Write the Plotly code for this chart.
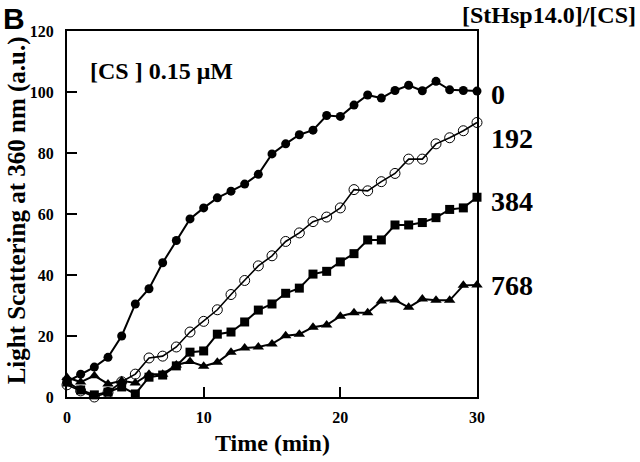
import plotly.graph_objects as go

time_min = list(range(0, 31))

ratio_labels = ["0", "192", "384", "768"]
label_y = [99.3, 84.6, 64.2, 36.4]

s_0 = [5, 7.5, 9.8, 13, 20, 30.5, 35.5, 44, 51.3, 58.4, 62, 65.3, 67.5, 69.8, 73, 79.7,
       83, 86, 87.5, 92.3, 92, 95.7, 99, 98, 100.5, 102.2, 100.4, 103.5, 100.7, 100.5, 100.3]
s_192 = [4, 2, 0, 1.5, 5, 7.5, 12.8, 13.4, 16.4, 21.3, 24.8, 28.6, 33.6, 38.2, 43, 46.3,
         51, 53.8, 57.5, 59, 62, 68, 67.6, 70.6, 73.3, 78, 78, 83, 85, 87.3, 90]
s_384 = [4.9, 2.3, 0.7, 1.6, 3.3, 1, 6.5, 7.2, 10.2, 14.7, 15.1, 20.6, 21.3, 24.6, 28.5, 30.5,
         34, 35.7, 40.3, 41.2, 44.3, 47, 51.5, 51.5, 56.4, 56.4, 57.2, 58.8, 61.5, 62, 65.5]
s_768 = [6.4, 4.9, 7, 4.3, 5.3, 4.6, 7.5, 7.5, 10.5, 11.6, 10.1, 11.4, 14.7, 16.1, 16.4, 17.4,
         20.1, 20.6, 22.9, 23.6, 26.5, 27.6, 27.6, 31.5, 31.8, 29.4, 32.1, 31.7, 31.7, 36.6, 36.7]

x_ticks = [0, 10, 20, 30]
y_ticks = [0, 20, 40, 60, 80, 100, 120]

SERIF = "Liberation Serif, Times New Roman, serif"

fig = go.Figure()
styles = [
    (s_0, dict(symbol="circle", size=9, color="black")),
    (s_192, dict(symbol="circle-open", size=10, color="black", line=dict(width=1))),
    (s_384, dict(symbol="square", size=9, color="black")),
    (s_768, dict(symbol="triangle-up", size=10, color="black")),
]
for ys, mk in styles:
    fig.add_trace(go.Scatter(
        x=time_min, y=ys, mode="lines+markers",
        line=dict(color="black", width=2 if mk["symbol"] != "circle-open" else 1.6),
        marker=mk, showlegend=False, cliponaxis=False,
    ))

for lab, yv in zip(ratio_labels, label_y):
    fig.add_annotation(x=1.03, xref="paper", y=yv, yref="y", text=lab, showarrow=False,
                       xanchor="left", yanchor="middle",
                       font=dict(family=SERIF, size=28, color="black", weight="bold"))

fig.add_annotation(x=1.3927, xref="paper", y=1.0847, yref="paper", text="[StHsp14.0]/[CS]",
                   showarrow=False, xanchor="right", yanchor="top",
                   font=dict(family=SERIF, size=24, color="black", weight="bold"))
fig.add_annotation(x=-0.161, xref="paper", y=1.0847, yref="paper", text="B",
                   showarrow=False, xanchor="left", yanchor="top",
                   font=dict(family="Liberation Sans, Arial, sans-serif", size=30, color="black", weight="bold"))
fig.add_annotation(x=1.5, xref="x", y=107, yref="y", text="[CS ] 0.15 μM",
                   showarrow=False, xanchor="left", yanchor="middle",
                   font=dict(family=SERIF, size=24, color="black", weight="bold"))
fig.add_annotation(x=-0.122, xref="paper", y=0.51, yref="paper",
                   text="Light Scattering at 360 nm (a.u.)", textangle=-90,
                   showarrow=False, xanchor="center", yanchor="middle",
                   font=dict(family=SERIF, size=25, color="black", weight="bold"))
fig.add_annotation(x=0.5, xref="paper", y=-0.126, yref="paper", text="Time (min)",
                   showarrow=False, xanchor="center", yanchor="middle",
                   font=dict(family=SERIF, size=24, color="black", weight="bold"))

axis_common = dict(showgrid=False, zeroline=False, showline=True, linecolor="black",
                   linewidth=2, mirror=True, ticks="inside", ticklen=10, tickwidth=1.5,
                   tickcolor="black",
                   tickfont=dict(family=SERIF, size=16, color="black", weight="bold"))
fig.update_xaxes(range=[0, 30], tickvals=x_ticks, ticklabelstandoff=5, **axis_common)
fig.update_yaxes(range=[0, 120], tickvals=y_ticks, ticklabelstandoff=8, **axis_common)

fig.update_layout(
    width=640, height=462,
    margin=dict(l=67, r=163, t=31, b=65),
    plot_bgcolor="white", paper_bgcolor="white",
)

fig.write_html("out.html", config={"displayModeBar": False},
               post_script="document.body.style.margin='0';document.body.style.overflow='hidden';")
